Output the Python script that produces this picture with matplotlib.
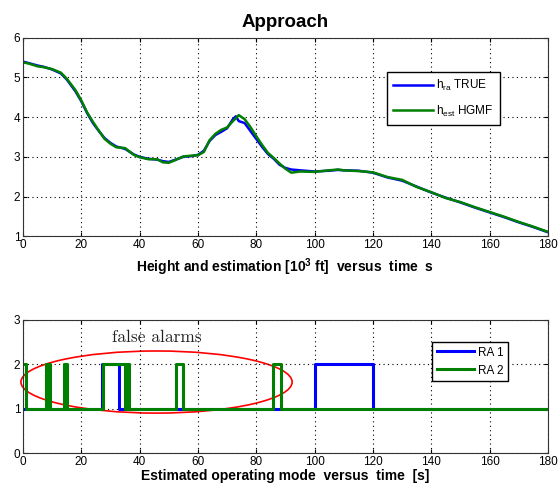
import numpy as np
import matplotlib
matplotlib.use("Agg")
import matplotlib.pyplot as plt
from matplotlib.patches import Ellipse

plt.rcParams['font.family'] = ['Liberation Sans', 'DejaVu Sans']
plt.rcParams['mathtext.fontset'] = 'custom'
plt.rcParams['mathtext.rm'] = 'Liberation Sans'

# altura real y estimada (miles de pies) frente al tiempo (s)
t_alt = [0, 2, 5, 7, 10, 13, 15, 18, 20, 22, 24, 26, 28, 30, 32, 35, 38, 40, 43, 46, 48,
         50, 52, 55, 58, 60, 62, 64, 66, 68, 70, 72, 73, 74, 76, 78, 80, 82, 84, 86, 88,
         90, 92, 95, 100, 105, 108, 110, 115, 120, 125, 130, 135, 140, 145, 150, 155,
         160, 165, 170, 175, 180]
h_true = [5.40, 5.36, 5.30, 5.27, 5.20, 5.10, 4.95, 4.65, 4.40, 4.10, 3.85, 3.65, 3.47,
          3.35, 3.26, 3.20, 3.06, 3.00, 2.95, 2.93, 2.89, 2.87, 2.92, 3.00, 3.02, 3.05,
          3.15, 3.40, 3.55, 3.63, 3.72, 3.95, 4.02, 3.90, 3.85, 3.65, 3.45, 3.25, 3.07,
          2.95, 2.80, 2.72, 2.68, 2.66, 2.63, 2.65, 2.67, 2.66, 2.65, 2.60, 2.48, 2.40,
          2.25, 2.10, 1.97, 1.85, 1.72, 1.60, 1.48, 1.35, 1.23, 1.10]
h_est = [5.38, 5.35, 5.28, 5.26, 5.21, 5.12, 4.97, 4.68, 4.42, 4.12, 3.88, 3.66, 3.45,
         3.33, 3.24, 3.22, 3.05, 2.99, 2.94, 2.94, 2.86, 2.85, 2.91, 3.01, 3.03, 3.04,
         3.12, 3.42, 3.58, 3.68, 3.74, 3.90, 3.97, 4.05, 3.95, 3.75, 3.52, 3.30, 3.10,
         2.97, 2.83, 2.70, 2.60, 2.63, 2.62, 2.66, 2.68, 2.66, 2.64, 2.61, 2.49, 2.42,
         2.24, 2.11, 1.96, 1.86, 1.73, 1.61, 1.49, 1.36, 1.24, 1.11]

# modo de operación estimado (escalones)
t_ra1 = [0, 27.0, 33.0, 100.0, 120.0, 180]
m_ra1 = [1, 2, 1, 2, 1, 1]
t_ra2 = [0, 1.0, 8.0, 8.4, 8.6, 9.2, 14.0, 14.4, 14.6, 15.2, 27.6, 35.0, 35.3, 35.7,
         36.1, 36.5, 37.1, 52.6, 55.0, 85.6, 86.0, 86.4, 87.8, 88.6, 180]
m_ra2 = [2, 1, 2, 1, 2, 1, 2, 1, 2, 1, 2, 1, 2, 1, 2, 1, 1, 2, 1, 2, 2, 2, 2, 1, 1]

ticks_x = np.arange(0, 181, 20)
blue = '#0000ff'
green = '#008000'

fig = plt.figure(figsize=(5.59, 4.84), dpi=100)
ax1 = fig.add_axes([0.0411, 0.512, 0.939, 0.41])
ax2 = fig.add_axes([0.0411, 0.064, 0.939, 0.275])

# grafica superior: altura
ax1.plot(t_alt, h_true, color=blue, lw=1.8, label=r'h$_{\mathregular{ra}}$ TRUE')
ax1.plot(t_alt, h_est, color=green, lw=1.8, label=r'h$_{\mathregular{est}}$ HGMF')
ax1.set_xlim(0, 180)
ax1.set_ylim(1, 6)
ax1.set_xticks(ticks_x)
ax1.set_yticks(range(1, 7))
ax1.set_title('Approach', fontsize=13.5, fontweight='bold', pad=8)
ax1.set_xlabel('Height and estimation [10$^{\\mathregular{3}}$ ft]  versus  time  s',
               fontsize=10, fontweight='bold', labelpad=4)
ax1.legend(loc='upper left', bbox_to_anchor=(0.693, 0.828), fontsize=8.5, fancybox=False,
           framealpha=1, edgecolor='black', handlelength=3.4, borderpad=0.5,
           labelspacing=0.9, handletextpad=0.3, borderaxespad=0)

# grafica inferior: modo estimado
ax2.step(t_ra1, m_ra1, where='post', color=blue, lw=2.2, label='RA 1')
ax2.step(t_ra2, m_ra2, where='post', color=green, lw=2.2, label='RA 2')
ax2.set_xlim(0, 180)
ax2.set_ylim(0, 3)
ax2.set_xticks(ticks_x)
ax2.set_yticks(range(0, 4))
ax2.set_xlabel('Estimated operating mode  versus  time  [s]',
               fontsize=10, fontweight='bold', labelpad=1)
ax2.legend(loc='upper left', bbox_to_anchor=(0.779, 0.835), fontsize=8.5, fancybox=False,
           framealpha=1, edgecolor='black', handlelength=3.2, borderpad=0.4,
           labelspacing=0.5, handletextpad=0.3, borderaxespad=0)

ell = Ellipse((45.8, 1.6), 93, 1.4, fill=False, edgecolor='red', lw=1.2, clip_on=False)
ax2.add_patch(ell)
ax2.text(46, 2.6, 'false alarms', fontsize=12.5, fontfamily='cmr10', ha='center',
         va='center', color='#222222')

for ax in (ax1, ax2):
    ax.grid(True, color='black', linestyle=(0, (1, 3)), lw=0.8)
    ax.tick_params(direction='in', length=3, labelsize=8.5, pad=2)
    ax.tick_params(top=True, right=True)
    for s in ax.spines.values():
        s.set_linewidth(0.8)
        s.set_color('#333333')

plt.savefig('out.png', dpi=100)
